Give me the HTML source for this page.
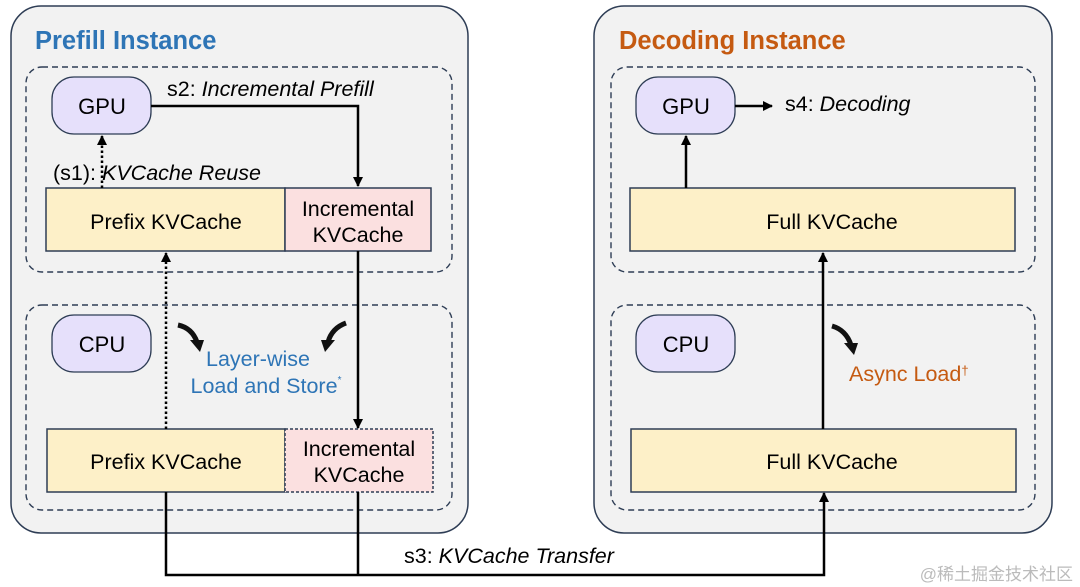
<!DOCTYPE html>
<html><head><meta charset="utf-8"><style>
body{margin:0;background:#fff}
svg{display:block;font-family:"Liberation Sans","Noto Sans CJK SC",sans-serif}
</style></head><body>
<svg width="1080" height="587" viewBox="0 0 1080 587">
<defs>
<marker id="a" markerWidth="10" markerHeight="10" refX="9" refY="5" orient="auto" markerUnits="userSpaceOnUse"><path d="M0,0L10,5L0,10z" fill="#000"/></marker>
</defs>
<rect width="1080" height="587" fill="#fff"/>
<rect x="11" y="6" width="457" height="527" rx="30" fill="#f2f2f2" stroke="#2e3d55" stroke-width="1.5"/>
<rect x="594" y="6" width="458" height="527" rx="30" fill="#f2f2f2" stroke="#2e3d55" stroke-width="1.5"/>
<text x="35" y="49" font-size="25.5" font-weight="bold" fill="#2e75b6">Prefill Instance</text>
<text x="619" y="49" font-size="25.5" font-weight="bold" fill="#c55a11">Decoding Instance</text>
<g fill="none" stroke="#2e3d55" stroke-width="1.4" stroke-dasharray="6,4">
<rect x="26" y="67" width="426" height="205" rx="16"/>
<rect x="26" y="305" width="426" height="205" rx="16"/>
<rect x="611" y="67" width="424" height="205" rx="16"/>
<rect x="611" y="305" width="424" height="205" rx="16"/>
</g>
<g fill="#e6e0fb" stroke="#2e3d55" stroke-width="1.3">
<rect x="52" y="77" width="99" height="57" rx="22"/>
<rect x="52" y="315" width="99" height="57" rx="22"/>
<rect x="636" y="77" width="99" height="57" rx="22"/>
<rect x="636" y="315" width="99" height="57" rx="22"/>
</g>
<g font-size="22" text-anchor="middle" fill="#000">
<text x="102" y="114">GPU</text><text x="102" y="352">CPU</text>
<text x="686" y="114">GPU</text><text x="686" y="352">CPU</text>
</g>
<g stroke="#2e3d55" stroke-width="1.5">
<rect x="46" y="188" width="239" height="63" fill="#fdf0c8"/>
<rect x="285" y="188" width="146" height="63" fill="#fbe0e0"/>
<rect x="47" y="429" width="238" height="63" fill="#fdf0c8"/>
<rect x="285" y="429" width="148" height="63" fill="#fbe0e0" stroke-dasharray="3,2"/>
<rect x="630" y="188" width="385" height="63" fill="#fdf0c8"/>
<rect x="631" y="429" width="385" height="63" fill="#fdf0c8"/>
</g>
<g font-size="21.5" text-anchor="middle" fill="#000">
<text x="166" y="229">Prefix KVCache</text>
<text x="358" y="216">Incremental</text><text x="358" y="242">KVCache</text>
<text x="166" y="469">Prefix KVCache</text>
<text x="359" y="456">Incremental</text><text x="359" y="482">KVCache</text>
<text x="832" y="229">Full KVCache</text>
<text x="832" y="469">Full KVCache</text>
</g>
<g fill="none" stroke="#000" stroke-width="2.5">
<path d="M151,106H358V186" marker-end="url(#a)"/>
<path d="M102,188V136" stroke-dasharray="2.5,2.5" marker-end="url(#a)"/>
<path d="M166,429V253" stroke-dasharray="2.5,2.5" marker-end="url(#a)"/>
<path d="M358,251V428" marker-end="url(#a)"/>
<path d="M166,492V575H824V493" marker-end="url(#a)"/>
<path d="M358,492V575"/>
<path d="M735,106H772" marker-end="url(#a)"/>
<path d="M686,188V136" marker-end="url(#a)"/>
<path d="M823,429V253" marker-end="url(#a)"/>
</g>
<g fill="none" stroke="#111" stroke-width="5">
<path d="M178,325Q192,328 197,342"/>
<path d="M346,323Q332,328 328,342"/>
<path d="M832,326Q846,330 851,345"/>
</g>
<g fill="#111">
<path d="M190,340L204,340L200,352z"/>
<path d="M321,340L335,340L325,352z"/>
<path d="M844,343L858,343L854,355z"/>
</g>
<text x="167" y="96" font-size="21.5" fill="#000">s2: <tspan font-style="italic">Incremental Prefill</tspan></text>
<text x="53" y="180" font-size="21.5" fill="#000">(s1): <tspan font-style="italic">KVCache Reuse</tspan></text>
<text x="258" y="366" font-size="21.5" fill="#2e75b6" text-anchor="middle">Layer-wise</text>
<text x="266" y="393" font-size="21.5" fill="#2e75b6" text-anchor="middle">Load and Store<tspan font-size="10" dy="-10">*</tspan></text>
<text x="849" y="381" font-size="21.5" fill="#c55a11">Async Load<tspan font-size="13" dy="-6">†</tspan></text>
<text x="785" y="111" font-size="21.5" fill="#000">s4: <tspan font-style="italic">Decoding</tspan></text>
<text x="404" y="563" font-size="21.5" fill="#000">s3: <tspan font-style="italic">KVCache Transfer</tspan></text>
<text x="1073" y="580" font-size="17" fill="#bbb" text-anchor="end">@稀土掘金技术社区</text>
</svg>
</body></html>
